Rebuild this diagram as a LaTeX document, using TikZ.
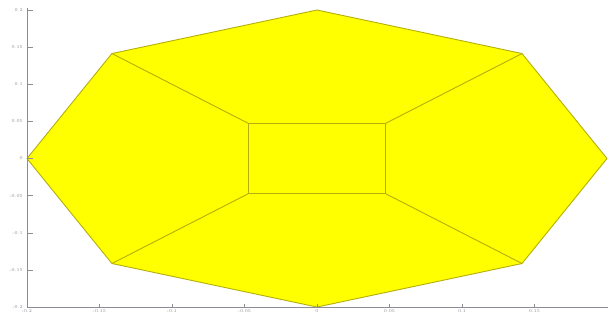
\documentclass[tikz,border=0pt]{standalone}
\usetikzlibrary{calc}
\definecolor{fillyel}{RGB}{255,255,0}
\definecolor{edgeol}{RGB}{180,175,10}
\definecolor{axgray}{RGB}{140,140,150}
\tikzset{
  face/.style={fill=fillyel, draw=edgeol, line width=0.9pt, line join=round},
  edgeline/.style={draw=edgeol, line width=0.9pt},
  axisline/.style={draw=axgray, line width=0.5pt},
  ticklab/.style={font=\fontsize{4.5}{4.5}\selectfont, text=axgray, inner sep=0.5pt}
}
\begin{document}
\begin{tikzpicture}[x=1450pt, y=742.5pt]
\useasboundingbox (-0.2186,-0.2175) rectangle (0.2007,0.2135);
% octagon vertices
\coordinate (o1) at (0,0.2);
\coordinate (o2) at (0.1414,0.1414);
\coordinate (o3) at (0.2,0);
\coordinate (o4) at (0.1414,-0.1414);
\coordinate (o5) at (0,-0.2);
\coordinate (o6) at (-0.1414,-0.1414);
\coordinate (o7) at (-0.2,0);
\coordinate (o8) at (-0.1414,0.1414);
% inner rectangle
\coordinate (i1) at (0.047,0.047);
\coordinate (i2) at (0.047,-0.047);
\coordinate (i3) at (-0.047,-0.047);
\coordinate (i4) at (-0.047,0.047);
\path[face] (o1) -- (o2) -- (o3) -- (o4) -- (o5) -- (o6) -- (o7) -- (o8) -- cycle;
\path[face] (i1) -- (i2) -- (i3) -- (i4) -- cycle;
\draw[edgeline] (i1) -- (o2) (i2) -- (o4) (i3) -- (o6) (i4) -- (o8);
% axes
\coordinate (ax0) at (-0.2,-0.2);
\coordinate (axx) at (0.2007,-0.2);
\coordinate (axy) at (-0.2,0.203);
\draw[axisline] (ax0) -- (axx);
\draw[axisline] (ax0) -- (axy);
\foreach \v/\t in {-0.2/-0.2,-0.15/-0.15,-0.1/-0.1,-0.05/-0.05,0/0,0.05/0.05,0.1/0.1,0.15/0.15} {
  \draw[axisline] (\v,-0.2) -- ++(0,0.004);
  \node[ticklab, anchor=north] (xl) at (\v,-0.2025) {\t};
}
\foreach \v/\t in {-0.2/-0.2,-0.15/-0.15,-0.1/-0.1,-0.05/-0.05,0/0,0.05/0.05,0.1/0.1,0.15/0.15,0.2/0.2} {
  \draw[axisline] (-0.2,\v) -- ++(0.004,0);
  \node[ticklab, anchor=east] (yl) at (-0.2025,\v) {\t};
}
\end{tikzpicture}
\end{document}
